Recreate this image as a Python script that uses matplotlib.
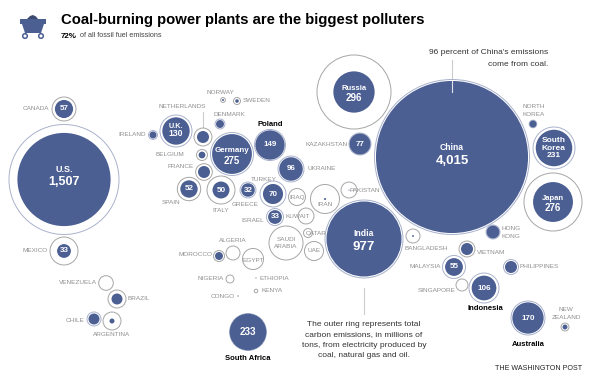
# Coal-burning power plants bubble chart
import numpy as np
import matplotlib
matplotlib.use("Agg")
import matplotlib.pyplot as plt
from matplotlib.patches import Circle, Polygon
#
plt.rcParams['font.family'] = ['Liberation Sans', 'DejaVu Sans']
#
# millions of tons: coal emissions, total emissions
countries = ['U.S.', 'Canada', 'Mexico', 'Venezuela', 'Brazil', 'Chile', 'Argentina',
             'Ireland', 'U.K.', 'Netherlands', 'Belgium', 'France', 'Germany', 'Denmark',
             'Norway', 'Sweden', 'Poland', 'Ukraine', 'Spain', 'Italy', 'Greece', 'Turkey',
             'Iraq', 'Iran', 'Pakistan', 'Kuwait', 'Israel', 'Saudi Arabia', 'Qatar', 'UAE',
             'Morocco', 'Algeria', 'Egypt', 'Nigeria', 'Ethiopia', 'Kenya', 'Congo',
             'South Africa', 'Russia', 'Kazakhstan', 'China', 'North Korea', 'South Korea',
             'Japan', 'India', 'Bangladesh', 'Hong Kong', 'Vietnam', 'Malaysia',
             'Philippines', 'Singapore', 'Indonesia', 'Australia', 'New Zealand']
coal = [1507, 57, 33, 0, 21, 21, 4.3,
        8.5, 130, 25, 8, 25, 275, 11,
        0.7, 2.2, 149, 96, 52, 50, 32, 70,
        0, 0.7, 0.2, 0, 33, 0, 0, 0,
        11, 0, 0, 0, 0, 0, 0,
        233, 296, 77, 4015, 8.5, 231,
        276, 977, 0.6, 29, 25, 55,
        25, 0, 106, 170, 4.3]
total = [2100, 100, 136, 37, 56, 34, 56,
         14, 178, 56, 21, 48, 321, 17,
         4, 8.5, 167, 117, 95, 136, 44, 117,
         50, 146, 44, 44, 50, 201, 14, 63,
         21, 34, 77, 11, 0.25, 2.2, 0.3,
         235, 951, 84, 4171, 10, 306,
         584, 1056, 34, 34, 44, 92,
         39, 25, 156, 201, 11]
# layout in picture pixels
cx = [64, 64, 64, 106, 117, 94, 112,
      153, 176, 203, 202, 204, 232, 220,
      223, 237, 270, 291, 189, 221, 248, 273,
      297, 325, 349, 306, 275, 286, 308, 314,
      219, 233, 253, 230, 256, 256, 238,
      248, 354, 360, 452, 533, 554,
      553, 364, 413, 493, 467, 454,
      511, 462, 484, 528, 565]
cy = [179.5, 109, 251, 283, 299, 319, 321,
      135, 131, 137, 155, 172, 154, 124,
      100, 101, 145, 169, 189, 190, 190, 194,
      197, 199, 190, 216, 217, 243, 233, 251,
      256, 253, 259, 279, 278, 291, 296,
      332, 92, 144, 157, 124, 148,
      202, 239, 236, 232, 249, 267,
      267, 285, 288, 318, 327]
# value labels inside the bubbles
in_text = ['U.S.', '1,507', 'U.K.', '130', 'Germany', '275', 'Russia', '296', 'China', '4,015',
           'India', '977', 'South\nKorea\n231', 'Japan', '276', '57', '33', '149', '96', '52',
           '50', '32', '70', '33', '77', '55', '106', '170', '233']
in_x = [64, 64, 176, 176, 232, 232, 354, 354, 452, 452,
        364, 364, 554, 553, 553, 64, 64, 270, 291, 189,
        221, 248, 273, 275, 360, 454, 484, 528, 248]
in_y = [169, 182, 126.5, 134, 151, 161, 88, 98, 147, 161,
        234, 247, 148, 198, 208, 109, 251, 145, 169, 189,
        190, 190, 194, 217, 144, 267, 288, 318, 332]
in_size = [6.5, 9, 5.2, 6.2, 5.8, 7, 5.5, 7, 6.2, 9.5,
           6.2, 9.5, 6, 5.5, 7, 5.8, 5.8, 5.8, 5.8, 5.8,
           5.8, 5.8, 5.8, 5.8, 5.8, 5.8, 5.8, 5.8, 7]
# gray country names
names = ['CANADA', 'NETHERLANDS', 'IRELAND', 'BELGIUM', 'FRANCE', 'SPAIN', 'ITALY', 'GREECE',
         'TURKEY', 'NORWAY', 'SWEDEN', 'DENMARK', 'UKRAINE', 'KAZAKHSTAN', 'NORTH\nKOREA', 'PAKISTAN',
         'IRAQ', 'IRAN', 'KUWAIT', 'ISRAEL', 'SAUDI\nARABIA', 'QATAR', 'UAE', 'ALGERIA', 'MOROCCO',
         'EGYPT', 'NIGERIA', 'ETHIOPIA', 'KENYA', 'CONGO', 'MEXICO', 'VENEZUELA', 'BRAZIL',
         'CHILE', 'ARGENTINA', 'BANGLADESH', 'HONG\nKONG', 'VIETNAM', 'MALAYSIA', 'PHILIPPINES',
         'SINGAPORE', 'NEW\nZEALAND']
name_x = [49, 182, 146, 184, 194, 171, 221, 245,
          264, 220, 243, 229, 307, 348, 534, 350,
          297, 325, 310, 264, 286, 306, 314, 233, 212,
          253, 224, 260, 262, 235, 48, 97, 128,
          84, 112, 426, 501, 477, 441, 519,
          456, 566]
name_y = [109, 106, 135, 155, 167, 203, 210, 204,
          179.5, 93, 101, 115, 169, 144, 110.5, 190,
          197, 204, 216, 221, 243, 233, 251, 240, 255,
          260, 279, 278, 291, 296, 251, 283, 299,
          320, 335, 248, 232.5, 253, 267, 267,
          291, 313.5]
name_ha = ['right', 'center', 'right', 'right', 'right', 'center', 'center', 'center',
           'center', 'center', 'left', 'center', 'left', 'right', 'center', 'left',
           'center', 'center', 'right', 'right', 'center', 'left', 'center', 'center', 'right',
           'center', 'right', 'left', 'left', 'right', 'right', 'right', 'left',
           'right', 'center', 'center', 'left', 'left', 'right', 'left',
           'right', 'center']
# bold names outside the bubbles
bold_names = ['Poland', 'South Africa', 'Indonesia', 'Australia']
bold_x = [270, 248, 485, 528]
bold_y = [124, 358, 309, 344]
#
BLUE = '#4c5f93'
GRAY = '#a6a6a6'
fig = plt.figure(figsize=(5.99, 3.86))
ax = fig.add_axes([0, 0, 1, 1])
ax.set_xlim(0, 599)
ax.set_ylim(386, 0)
ax.set_aspect('equal')
ax.set_axis_off()
#
# area scale: radius in pixels from millions of tons
k = 1.2
for i in range(len(countries)):
    r_out = k*np.sqrt(total[i])
    r_in = k*np.sqrt(coal[i])
    ratio = total[i]/coal[i] if coal[i] > 0 else 99
    ring = '#a9b2cc' if ratio < 1.7 else GRAY
    if total[i] < 0.5:
        ax.add_patch(Circle((cx[i], cy[i]), r_out, fc='#777777', ec='none', zorder=2))
    else:
        ax.add_patch(Circle((cx[i], cy[i]), r_out, fc='white', ec=ring, lw=0.7, zorder=2))
    if coal[i] > 0:
        ax.add_patch(Circle((cx[i], cy[i]), r_in, fc=BLUE, ec='none', zorder=3))
# end for
#
# leader lines
ax.plot([452, 452], [60, 81], color='#cccccc', lw=0.8, zorder=1)
ax.plot([452, 452], [81, 92], color='#dfe3ee', lw=0.8, zorder=4)
ax.plot([364, 364], [288, 314], color='#cccccc', lw=0.8, zorder=1)
ax.plot([203, 203], [112, 128], color='#cccccc', lw=0.8, zorder=1)
#
for i in range(len(in_text)):
    ax.text(in_x[i], in_y[i], in_text[i], color='white', fontsize=in_size[i], fontweight='bold',
            ha='center', va='center', linespacing=1.05, zorder=5)
# end for
#
for i in range(len(names)):
    ax.text(name_x[i], name_y[i], names[i], color='#8f8f8f', fontsize=4.6,
            ha=name_ha[i], va='center', multialignment='center' if '\n' in names[i] else name_ha[i],
            linespacing=1.6, zorder=6)
# end for
#
for i in range(len(bold_names)):
    ax.text(bold_x[i], bold_y[i], bold_names[i], color='black', fontsize=5.5, fontweight='bold',
            ha='center', va='center', zorder=6)
# end for
#
# title block
ax.text(61, 20, 'Coal-burning power plants are the biggest polluters', color='black',
        fontsize=10.7, fontweight='bold', ha='left', va='center')
ax.text(61, 36, '72%', color='black', fontsize=5.8, fontweight='bold', ha='left', va='center')
ax.text(80, 35.5, 'of all fossil fuel emissions', color='#444444', fontsize=5.2, ha='left', va='center')
#
# coal cart icon
ax.add_patch(Polygon([[20, 19], [46, 19], [46, 24], [44, 24], [41, 33], [25, 33], [22, 24], [20, 24]],
                     closed=True, fc=BLUE, ec='none'))
ax.add_patch(Polygon([[27, 19], [30, 16], [33, 15], [36, 16.5], [38, 19]], closed=True, fc='#3c4a70', ec='none'))
ax.add_patch(Circle((25, 36), 2.3, fc='white', ec=BLUE, lw=1.1))
ax.add_patch(Circle((41, 36), 2.3, fc='white', ec=BLUE, lw=1.1))
#
# notes
ax.text(548, 52, "96 percent of China's emissions", color='#333333', fontsize=6.0, ha='right', va='center')
ax.text(548, 65, 'come from coal.', color='#333333', fontsize=6.0, ha='right', va='center')
ax.text(364, 340, 'The outer ring represents total\ncarbon emissions, in millions of\ntons, from electricity produced by\ncoal, natural gas and oil.',
        color='#333333', fontsize=6.0, ha='center', va='center', linespacing=1.7)
ax.text(582, 369, 'THE WASHINGTON POST', color='#222222', fontsize=5.1, ha='right', va='center')
#
fig.savefig('out.png', format='png', dpi=100)
